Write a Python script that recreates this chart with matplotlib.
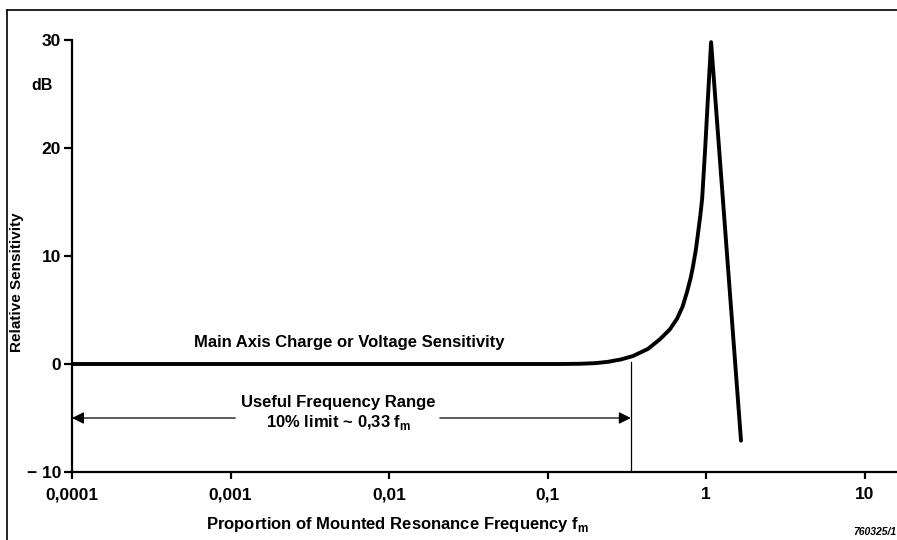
import numpy as np
import matplotlib
matplotlib.use("Agg")
import matplotlib.pyplot as plt
from matplotlib.lines import Line2D

plt.rcParams["font.family"] = ["Liberation Sans", "DejaVu Sans"]
plt.rcParams["font.weight"] = "bold"
plt.rcParams["mathtext.default"] = "bf"

# sensitivity curve (relative frequency, dB)
freq = [0.0001, 0.001, 0.01, 0.12, 0.16, 0.2, 0.24, 0.29, 0.346, 0.43, 0.512, 0.59, 0.656,
        0.71, 0.759, 0.80, 0.828, 0.862, 0.891, 0.92, 0.944, 0.986, 1.03, 1.075, 1.66]
sens = [0.0, 0.0, 0.0, 0.0, 0.02, 0.08, 0.2, 0.42, 0.74, 1.4, 2.3, 3.2, 4.2,
        5.3, 6.7, 8.0, 9.1, 10.6, 12.2, 13.8, 15.3, 19.9, 25.0, 29.8, -7.1]

xticks = [0.0001, 0.001, 0.01, 0.1, 1, 10]
xtick_labels = ["0,0001", "0,001", "0,01", "0,1", "1", "10"]
yticks = [-10, 0, 10, 20, 30]
ytick_labels = ["\u2212 10", "0", "10", "20", "30"]
limit_freq = 0.335

W, H = 897, 540
fig = plt.figure(figsize=(W / 100, H / 100), dpi=100, facecolor="white")
ax = fig.add_axes([72 / W, (H - 472) / H, 1 - 72 / W, (472 - 40) / H])

ax.plot(freq, sens, color="black", lw=2.8, solid_capstyle="round", solid_joinstyle="round", zorder=5)
ax.set_xscale("log")
ax.set_xlim(1e-4, 16)
ax.set_ylim(-10, 30)

ax.set_xticks(xticks)
ax.set_xticklabels(xtick_labels)
ax.minorticks_off()
ax.set_yticks(yticks)
ax.set_yticklabels(ytick_labels)
ax.tick_params(axis="x", direction="out", length=5, width=1.6, pad=6, labelsize=12.5)
ax.tick_params(axis="y", direction="out", length=6, width=1.6, pad=2, labelsize=12.5)

for s in ["top", "right"]:
    ax.spines[s].set_visible(False)
for s in ["left", "bottom"]:
    ax.spines[s].set_linewidth(1.6)

# useful range markers
ax.plot([limit_freq, limit_freq], [0.2, -10], color="black", lw=0.9)
ax.annotate("", xy=(1e-4, -5), xytext=(0.00107, -5),
            arrowprops=dict(arrowstyle="-|>", color="black", lw=0.9, mutation_scale=18,
                            shrinkA=0, shrinkB=0))
ax.annotate("", xy=(limit_freq, -5), xytext=(0.0209, -5),
            arrowprops=dict(arrowstyle="-|>", color="black", lw=0.9, mutation_scale=18,
                            shrinkA=0, shrinkB=0))

ax.text(0.0056, 2.0, "Main Axis Charge or Voltage Sensitivity", ha="center", va="center", fontsize=12)
ax.text(0.0048, -3.6, "Useful Frequency Range", ha="center", va="center", fontsize=12)
ax.text(0.0048, -5.4, "10% limit ~ 0,33 f$_\\mathregular{m}$", ha="center", va="center", fontsize=12)

fig.text(42 / W, 1 - 85 / H, "dB", ha="center", va="center", fontsize=11.5)
fig.text(17 / W, 1 - 282 / H, "Relative Sensitivity", rotation=90, ha="center", va="center", fontsize=11)
fig.text(398 / W, 1 - 524 / H, "Proportion of Mounted Resonance Frequency f$_\\mathregular{m}$",
         ha="center", va="center", fontsize=12)
fig.text(896 / W, 1 - 532 / H, "760325/1", ha="right", va="center", fontsize=7.5, style="italic")

# outer frame of the page
fig.add_artist(Line2D([7 / W, 7 / W], [0, 1 - 10 / H], color="black", lw=1.2))
fig.add_artist(Line2D([7 / W, 1], [1 - 10 / H, 1 - 10 / H], color="black", lw=1.2))

fig.savefig("out.png", dpi=100, facecolor="white")
